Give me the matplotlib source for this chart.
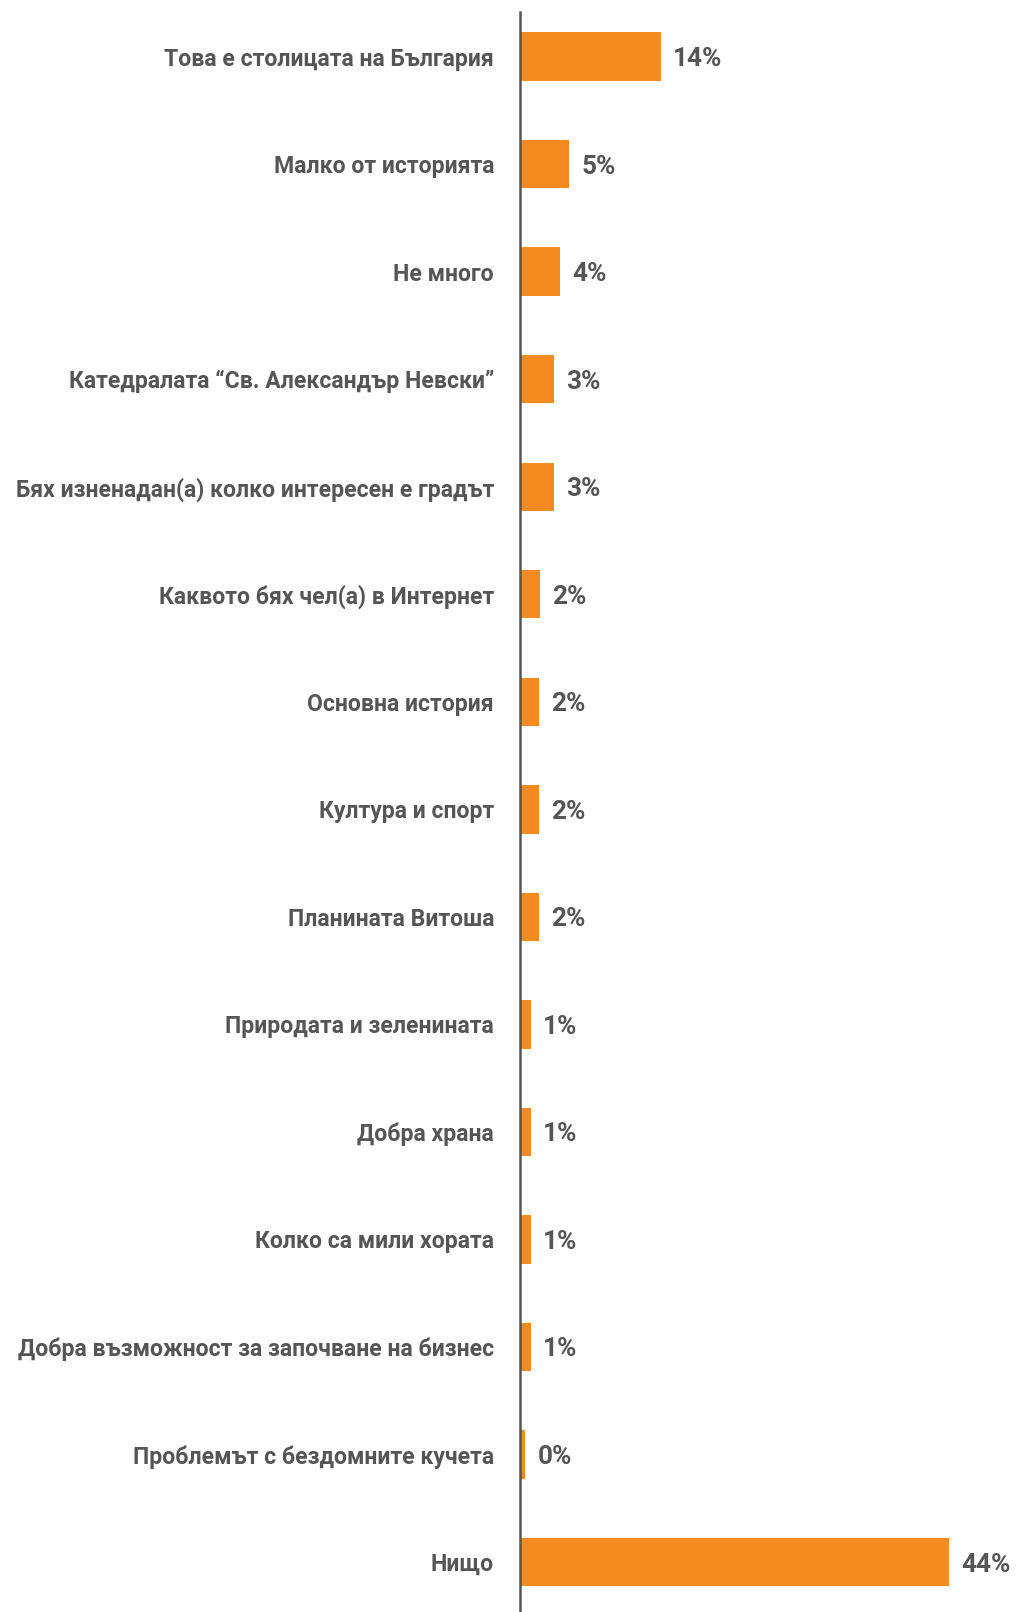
import matplotlib
matplotlib.use("Agg")
import matplotlib.pyplot as plt

# Отговори и стойности (в %)
categories = [
    "Това е столицата на България",
    "Малко от историята",
    "Не много",
    "Катедралата “Св. Александър Невски”",
    "Бях изненадан(а) колко интересен е градът",
    "Каквото бях чел(а) в Интернет",
    "Основна история",
    "Култура и спорт",
    "Планината Витоша",
    "Природата и зеленината",
    "Добра храна",
    "Колко са мили хората",
    "Добра възможност за започване на бизнес",
    "Проблемът с бездомните кучета",
    "Нищо",
]
values = [14.4, 5.0, 4.0, 3.4, 3.4, 1.95, 1.85, 1.85, 1.85, 1.0, 1.0, 1.0, 1.0, 0.45, 44.0]

bar_color = "#F58B20"
text_color = "#555555"

plt.rcParams["font.family"] = ["Roboto", "DejaVu Sans"]

fig = plt.figure(figsize=(10.16, 16.12), dpi=100)
ax = fig.add_axes([520 / 1016, 0, 1 - 520 / 1016, 1 - 12 / 1612])

y = list(range(len(categories)))
ax.barh(y, values, height=0.45, color=bar_color, left=0.08)

for yi, v in zip(y, values):
    ax.annotate(f"{v:.0f}%", xy=(v, yi), xytext=(9.5, 0), textcoords="offset points",
                va="center_baseline", ha="left", fontsize=18.8, fontweight="bold",
                color=text_color)

ax.set_yticks(y)
ax.set_yticklabels(categories, fontsize=16.6, fontweight="bold", color=text_color)
ax.tick_params(axis="y", length=0, pad=26 * 0.72)
ax.set_xticks([])

ax.set_xlim(0, 51)
ax.set_ylim(14.465, -0.415)

for s in ["top", "right", "bottom"]:
    ax.spines[s].set_visible(False)
ax.spines["left"].set_color(text_color)
ax.spines["left"].set_linewidth(1.8)

fig.savefig("out.png", dpi=100)
